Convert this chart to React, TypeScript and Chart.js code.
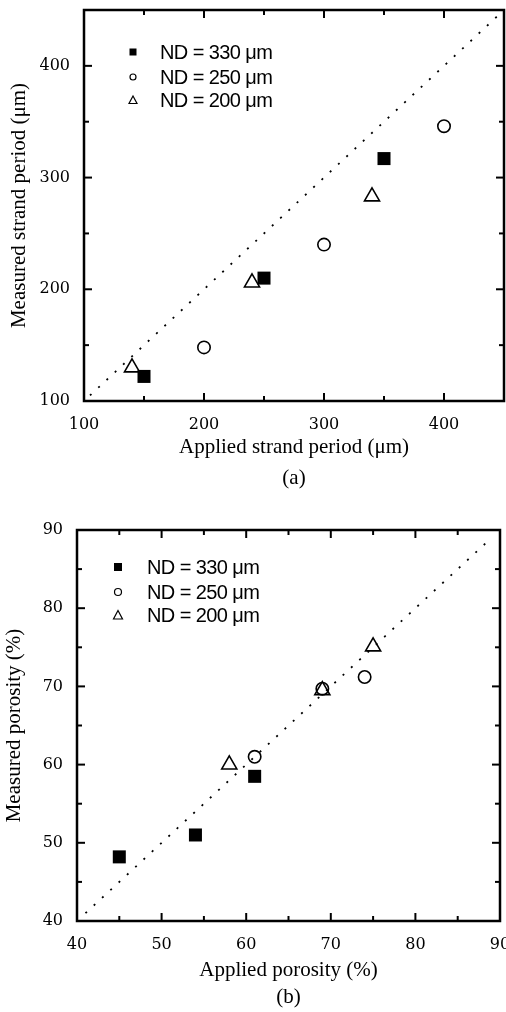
import React, { useEffect, useRef } from 'react';
import { Chart, registerables } from 'chart.js';

Chart.register(...registerables);

// ---------- data ----------
const seriesLabels = ['ND = 330 μm', 'ND = 250 μm', 'ND = 200 μm'];

// (a) strand period (μm)
const periodApplied330 = [150, 250, 350];
const periodMeasured330 = [122, 210, 317];
const periodApplied250 = [200, 300, 400];
const periodMeasured250 = [148, 240, 346];
const periodApplied200 = [140, 240, 340];
const periodMeasured200 = [130, 206, 283];
const periodRefLine = [105, 445];

// (b) porosity (%)
const porosityApplied330 = [45, 54, 61];
const porosityMeasured330 = [48.2, 51, 58.5];
const porosityApplied250 = [61, 69, 74];
const porosityMeasured250 = [61, 69.7, 71.2];
const porosityApplied200 = [58, 69, 75];
const porosityMeasured200 = [60, 69.5, 75.1];
const porosityRefLine = [41, 89];

const SERIF = '"Liberation Serif", "Times New Roman", serif';
const TICKSERIF = '"DejaVu Serif", serif';
const SANS = '"Liberation Sans", Arial, sans-serif';

const zip = (xs: number[], ys: number[]) => xs.map((x, i) => ({ x, y: ys[i] }));

type PanelSpec = {
  canvasHeight: number;
  caption: string;
  captionPad: number;
  xTitle: string;
  yTitle: string;
  xTitlePad: number;
  yTitlePad: number;
  min: number;
  max: number;
  step: number;
  major: number;
  xH: number;
  yW: number;
  padTop: number;
  padRight: number;
  ref: number[];
  a330: number[]; m330: number[];
  a250: number[]; m250: number[];
  a200: number[]; m200: number[];
  legend: { mx: number; tx: number; rows: number[]; size: number };
};

const framePlugin = {
  id: 'frameTicksLegend',
  afterDraw(chart: any, _args: any, opts: any) {
    const { ctx, chartArea } = chart;
    const { left, right, top, bottom } = chartArea;
    const xs = chart.scales.x;
    const ys = chart.scales.y;
    ctx.save();
    ctx.strokeStyle = '#000';
    ctx.lineWidth = 2;
    const seg = (x1: number, y1: number, x2: number, y2: number) => {
      ctx.beginPath();
      ctx.moveTo(x1, y1);
      ctx.lineTo(x2, y2);
      ctx.stroke();
    };
    xs.ticks.forEach((t: any) => {
      const px = xs.getPixelForValue(t.value);
      const len = t.label ? 8 : 5;
      seg(px, bottom, px, bottom - len);
      seg(px, top, px, top + len);
    });
    ys.ticks.forEach((t: any) => {
      const py = ys.getPixelForValue(t.value);
      const len = t.label ? 8 : 5;
      seg(left, py, left + len, py);
      seg(right, py, right - len, py);
    });
    ctx.lineWidth = 2.5;
    ctx.strokeRect(left, top, right - left, bottom - top);

    // legend
    const lg = opts.legend;
    const dsets = chart.data.datasets.filter((d: any) => d.label);
    dsets.forEach((d: any, i: number) => {
      const cx = left + lg.mx;
      const cy = top + lg.rows[i];
      const s = lg.size;
      ctx.lineWidth = 1.2;
      ctx.strokeStyle = '#000';
      ctx.fillStyle = '#000';
      if (d.pointStyle === 'rect') {
        ctx.fillRect(cx - s / 2, cy - s / 2, s, s);
      } else if (d.pointStyle === 'circle') {
        ctx.beginPath();
        ctx.arc(cx, cy, s / 2 - 0.5, 0, Math.PI * 2);
        ctx.stroke();
      } else {
        ctx.beginPath();
        ctx.moveTo(cx, cy - s / 2 - 0.5);
        ctx.lineTo(cx + s / 2 + 0.5, cy + s / 2);
        ctx.lineTo(cx - s / 2 - 0.5, cy + s / 2);
        ctx.closePath();
        ctx.stroke();
      }
      ctx.font = `20px ${SANS}`;
      (ctx as any).letterSpacing = '-0.6px';
      ctx.textBaseline = 'middle';
      ctx.textAlign = 'left';
      ctx.fillText(d.label, left + lg.tx, cy + 1);
      (ctx as any).letterSpacing = '0px';
    });
    ctx.restore();
  },
};

function makeConfig(p: PanelSpec): any {
  const tickFont = { family: TICKSERIF, size: 16 };
  const titleFont = { family: SERIF, size: 21, lineHeight: 1.2 };
  const commonTicks = {
    stepSize: p.step,
    autoSkip: false,
    maxRotation: 0,
    color: '#000',
    padding: 6,
    font: tickFont,
    callback: (v: any) => (Math.round(v) % p.major === 0 ? String(v) : ''),
  };
  return {
    type: 'scatter',
    data: {
      datasets: [
        {
          label: '',
          data: zip(p.ref, p.ref),
          showLine: true,
          borderColor: '#000',
          borderWidth: 1.8,
          borderDash: [2, 9.3],
          pointRadius: 0,
          fill: false,
        },
        {
          label: seriesLabels[0],
          data: zip(p.a330, p.m330),
          pointStyle: 'rect',
          pointRadius: 9.2,
          backgroundColor: '#000',
          borderColor: '#000',
          borderWidth: 0,
        },
        {
          label: seriesLabels[1],
          data: zip(p.a250, p.m250),
          pointStyle: 'circle',
          pointRadius: 6.2,
          backgroundColor: 'rgba(255,255,255,0)',
          borderColor: '#000',
          borderWidth: 1.6,
        },
        {
          label: seriesLabels[2],
          data: zip(p.a200, p.m200),
          pointStyle: 'triangle',
          pointRadius: 8.7,
          backgroundColor: 'rgba(255,255,255,0)',
          borderColor: '#000',
          borderWidth: 1.6,
        },
      ],
    },
    options: {
      animation: false,
      responsive: false,
      events: [],
      layout: { autoPadding: false, padding: { top: p.padTop, right: p.padRight, left: 0, bottom: 0 } },
      plugins: {
        legend: { display: false },
        tooltip: { enabled: false },
        title: {
          display: true,
          text: p.caption,
          position: 'bottom',
          fullSize: false,
          color: '#000',
          font: { family: SERIF, size: 21, weight: 'normal', lineHeight: 1.0 },
          padding: { top: 0, bottom: p.captionPad },
        },
        frameTicksLegend: { legend: p.legend },
      },
      scales: {
        x: {
          type: 'linear',
          min: p.min,
          max: p.max,
          afterFit: (s: any) => {
            s.height = p.xH;
            s.paddingLeft = 0;
            s.paddingRight = 0;
          },
          grid: { display: false },
          border: { display: false },
          ticks: commonTicks,
          title: {
            display: true,
            text: p.xTitle,
            color: '#000',
            font: titleFont,
            padding: { top: 0, bottom: p.xTitlePad },
          },
        },
        y: {
          type: 'linear',
          min: p.min,
          max: p.max,
          afterFit: (s: any) => {
            s.width = p.yW;
            s.paddingTop = 0;
            s.paddingBottom = 0;
          },
          grid: { display: false },
          border: { display: false },
          ticks: commonTicks,
          title: {
            display: true,
            text: p.yTitle,
            color: '#000',
            font: titleFont,
            padding: { top: p.yTitlePad, bottom: 0 },
          },
        },
      },
    },
    plugins: [framePlugin],
  };
}

const panelA: PanelSpec = {
  canvasHeight: 490,
  caption: '(a)',
  captionPad: 1.5,
  xTitle: 'Applied strand period (μm)',
  yTitle: 'Measured strand period (μm)',
  xTitlePad: 7.9,
  yTitlePad: 6.4,
  min: 100,
  max: 450,
  step: 50,
  major: 100,
  xH: 66.5,
  yW: 84,
  padTop: 10,
  padRight: 2,
  ref: periodRefLine,
  a330: periodApplied330, m330: periodMeasured330,
  a250: periodApplied250, m250: periodMeasured250,
  a200: periodApplied200, m200: periodMeasured200,
  legend: { mx: 49, tx: 76, rows: [42, 67, 90], size: 7 },
};

const panelB: PanelSpec = {
  canvasHeight: 522,
  caption: '(b)',
  captionPad: 4.5,
  xTitle: 'Applied porosity (%)',
  yTitle: 'Measured porosity (%)',
  xTitlePad: 3.9,
  yTitlePad: 1.4,
  min: 40,
  max: 90,
  step: 5,
  major: 10,
  xH: 65.5,
  yW: 77,
  padTop: 40,
  padRight: 6,
  ref: porosityRefLine,
  a330: porosityApplied330, m330: porosityMeasured330,
  a250: porosityApplied250, m250: porosityMeasured250,
  a200: porosityApplied200, m200: porosityMeasured200,
  legend: { mx: 41, tx: 70, rows: [37, 62, 85], size: 8 },
};

function Panel({ spec, top }: { spec: PanelSpec; top: number }) {
  const ref = useRef<HTMLCanvasElement>(null);
  useEffect(() => {
    const chart = new Chart(ref.current as HTMLCanvasElement, makeConfig(spec));
    return () => chart.destroy();
  }, [spec]);
  return (
    <div style={{ position: 'absolute', left: 0, top, width: 506, height: spec.canvasHeight }}>
      <canvas ref={ref} width={506} height={spec.canvasHeight} style={{ display: 'block' }} />
    </div>
  );
}

export default function App() {
  return (
    <div style={{ position: 'absolute', left: 0, top: 0, width: 506, height: 1012, background: '#fff' }}>
      <Panel spec={panelA} top={0} />
      <Panel spec={panelB} top={490} />
    </div>
  );
}
